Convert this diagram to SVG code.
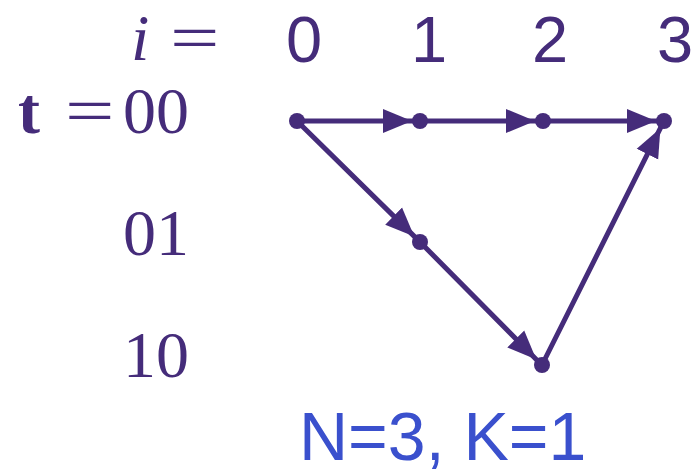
<svg xmlns="http://www.w3.org/2000/svg" width="700" height="475" viewBox="0 0 700 475">
<style>
.ser{font-family:"Liberation Serif","Times New Roman",serif;fill:#452c7a;font-size:66px}
.eq{font-family:"Liberation Serif","Times New Roman",serif;fill:#452c7a;font-size:66px}
.idx{font-family:"Liberation Sans",Arial,sans-serif;fill:#452c7a;font-size:65px}
.cap{font-family:"Liberation Sans",Arial,sans-serif;fill:#3a50cd;font-size:68px}
.edge{fill:none;stroke:#452c7a;stroke-width:5;marker-mid:url(#ah)}
.node{fill:#452c7a}
</style>
<defs>
<marker id="ah" markerUnits="userSpaceOnUse" markerWidth="30" markerHeight="26" refX="29" refY="12" orient="auto" viewBox="0 0 30 24">
<path d="M0,0 L29,12 L0,24 Z" fill="#452c7a"/>
</marker>
</defs>
<g id="labels">
<text class="ser" x="131" y="60" font-style="italic">i</text>
<text class="eq" transform="translate(170,60) scale(1.33,1)" x="0" y="0">=</text>
<text class="ser" x="18" y="133" font-weight="bold">t</text>
<text class="eq" transform="translate(65,133) scale(1.33,1)" x="0" y="0">=</text>
<text class="ser" x="123" y="133">00</text>
<text class="ser" x="123" y="255">01</text>
<text class="ser" x="123" y="377">10</text>
<text class="idx" x="286" y="62">0</text>
<text class="idx" x="411" y="62">1</text>
<text class="idx" x="532" y="62">2</text>
<text class="idx" x="657" y="62">3</text>
<text class="cap" x="299" y="460">N=3, K=1</text>
</g>
<g id="connectors">
<polyline class="edge" points="297,121 412,121 420,121"/>
<polyline class="edge" points="420,121 535,121 543,121"/>
<polyline class="edge" points="543,121 656,121 664,121"/>
<polyline class="edge" points="297,121 414.3,236.4 420,242"/>
<polyline class="edge" points="420,242 536.3,359.4 542,365"/>
<polyline class="edge" points="542,365 660.4,128.2 664,121"/>
</g>
<g id="n0"><circle class="node" cx="297" cy="121" r="8"/></g>
<g id="n1"><circle class="node" cx="420" cy="121" r="8"/></g>
<g id="n2"><circle class="node" cx="543" cy="121" r="8"/></g>
<g id="n3"><circle class="node" cx="664" cy="121" r="8"/></g>
<g id="n01"><circle class="node" cx="420" cy="242" r="8"/></g>
<g id="n10"><circle class="node" cx="542" cy="365" r="8"/></g>
</svg>
